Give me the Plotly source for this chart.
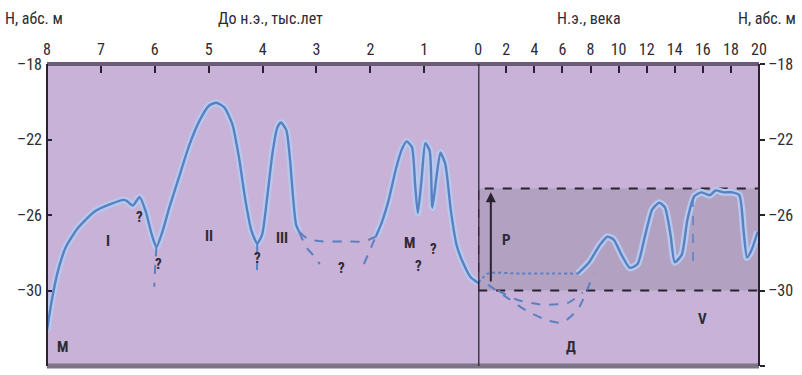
import plotly.graph_objects as go
from plotly.subplots import make_subplots

# ---------------- data ----------------
# BC part: thousand years BC, level (m abs.)
bc_t = [8.0, 7.91, 7.80, 7.65, 7.43, 7.11, 6.80, 6.58, 6.52, 6.41, 6.28, 6.17, 6.06, 5.97, 5.86, 5.73,
        5.54, 5.36, 5.17, 4.99, 4.86, 4.71, 4.56, 4.43, 4.32, 4.21, 4.10, 4.01, 3.92, 3.82, 3.73, 3.66,
        3.56, 3.49, 3.43, 3.38, 3.32]
bc_h = [-32.1, -30.5, -29.0, -27.7, -26.7, -25.8, -25.4, -25.2, -25.25, -25.5, -25.05, -25.8, -27.0, -27.7, -26.9, -25.6,
        -23.9, -22.3, -21.0, -20.2, -20.05, -20.3, -21.2, -23.1, -25.2, -26.8, -27.5, -27.05, -25.2, -22.8, -21.4, -21.1,
        -21.5, -23.1, -25.2, -26.5, -26.9]

bc2_t = [1.90, 1.79, 1.66, 1.53, 1.42, 1.33, 1.23, 1.17, 1.12, 1.05, 0.98, 0.90, 0.85, 0.77, 0.70, 0.61,
         0.51, 0.40, 0.27, 0.14, 0.0]
bc2_h = [-27.15, -26.4, -25.2, -23.6, -22.55, -22.1, -22.4, -24.4, -25.9, -24.1, -22.2, -22.6, -25.6, -23.9, -22.7, -23.3,
         -25.7, -27.6, -28.6, -29.3, -29.6]

# dashed alternative paths (BC)
dash_up_t = [3.32, 3.14, 2.86, 2.49, 2.12, 1.90]
dash_up_h = [-26.9, -27.3, -27.4, -27.4, -27.4, -27.15]
dash_lo1_t = [3.32, 3.19, 3.04, 2.94]
dash_lo1_h = [-26.9, -27.7, -28.2, -28.6]
dash_lo2_t = [2.12, 2.03, 1.90]
dash_lo2_h = [-28.6, -28.0, -27.15]
dash_q6_t = [5.97, 5.99, 6.01]
dash_q6_h = [-27.7, -28.6, -29.8]
dash_q4_t = [4.10, 4.10, 4.11]
dash_q4_h = [-27.5, -28.4, -29.4]

# AD part: centuries AD
ad_flat_c = [0.0, 0.7, 3.0, 5.0, 7.1]
ad_flat_h = [-29.6, -29.1, -29.1, -29.1, -29.1]
ad_c = [7.1, 7.9, 8.65, 9.2, 9.65, 10.2, 10.8, 11.35, 11.9, 12.4, 12.9, 13.3, 13.7, 14.0, 14.5, 14.9,
        15.4, 15.9, 16.5, 16.9, 17.5, 18.1, 18.6, 18.9, 19.15, 19.5, 19.9]
ad_h = [-29.1, -28.5, -27.6, -27.15, -27.3, -28.1, -28.8, -28.6, -27.05, -25.7, -25.35, -25.6, -27.05, -28.5, -28.1, -26.25,
        -25.0, -24.8, -24.95, -24.7, -24.8, -24.8, -24.95, -26.8, -28.25, -27.8, -26.9]
ad_dash_c = [15.3, 15.3]
ad_dash_h = [-25.1, -28.6]

d_outer_c = [0.7, 2.1, 3.5, 5.0, 6.0, 7.1, 7.8, 8.2]
d_outer_h = [-29.7, -30.4, -31.1, -31.6, -31.7, -31.0, -29.9, -29.1]
d_inner_c = [1.4, 2.8, 4.6, 6.4, 7.45]
d_inner_h = [-30.0, -30.5, -30.75, -30.65, -30.1]

range_box_c = [0, 20]
range_box_h = [-30.0, -24.6]
p_arrow_c = 0.9
p_arrow_h = [-29.6, -24.8]

bc_ticks = [8, 7, 6, 5, 4, 3, 2, 1]
ad_ticks = [0, 2, 4, 6, 8, 10, 12, 14, 16, 18, 20]
y_ticks = [-18, -22, -26, -30, -34]
y_tick_text = ["–18", "–22", "–26", "–30", "–34"]

# labels: (x, y, text, axis)
labels = [
    (6.87, -27.4, "I", "bc"), (4.99, -27.1, "II", "bc"), (3.64, -27.2, "III", "bc"),
    (6.28, -26.1, "?", "bc"), (5.94, -28.6, "?", "bc"), (4.10, -28.3, "?", "bc"),
    (2.53, -28.8, "?", "bc"), (1.11, -28.7, "?", "bc"), (0.82, -27.8, "?", "bc"),
    (1.28, -27.5, "М", "bc"), (7.72, -33.0, "М", "bc"),
    (2.0, -27.3, "Р", "ad"), (6.6, -33.0, "Д", "ad"), (16.0, -31.5, "V", "ad"),
]

# ---------------- figure ----------------
BG = "#C8B2D7"
LINE = "#5A80C2"
HALO = "#B5C9EE"
TXT = "#2E2A33"
FONT = "Liberation Sans Narrow, Roboto Condensed, Roboto, Liberation Sans, Arial"

fig = make_subplots(rows=1, cols=2, shared_yaxes=True, horizontal_spacing=0,
                    column_widths=[433, 282])

def add_line(x, y, col, dash=None, halo=True, width=2.4):
    if halo:
        fig.add_trace(go.Scatter(x=x, y=y, mode="lines", line=dict(color=HALO, width=7, shape="spline", smoothing=0.6,
                                 dash=dash if dash else "solid"), hoverinfo="skip", showlegend=False), row=1, col=col)
    fig.add_trace(go.Scatter(x=x, y=y, mode="lines", line=dict(color=LINE, width=width, shape="spline", smoothing=0.6,
                             dash=dash if dash else "solid"), hoverinfo="skip", showlegend=False), row=1, col=col)

# shaded box in AD part
fig.add_shape(type="rect", xref="x2", yref="y", x0=range_box_c[0], x1=range_box_c[1],
              y0=range_box_h[0], y1=range_box_h[1], fillcolor="#B3A1C2",
              line=dict(color="#2A2230", width=2, dash="dash"), layer="below")

add_line(bc_t, bc_h, 1)
add_line(bc2_t, bc2_h, 1)
for xx, yy in [(dash_up_t, dash_up_h), (dash_lo1_t, dash_lo1_h), (dash_lo2_t, dash_lo2_h),
               (dash_q6_t, dash_q6_h), (dash_q4_t, dash_q4_h)]:
    add_line(xx, yy, 1, dash="dash", halo=False, width=2)

add_line(ad_flat_c, ad_flat_h, 2, dash="dot", halo=False, width=2)
add_line(ad_c, ad_h, 2)
add_line(ad_dash_c, ad_dash_h, 2, dash="dash", halo=False, width=1.5)
add_line(d_outer_c, d_outer_h, 2, dash="dash", halo=False, width=2)
add_line(d_inner_c, d_inner_h, 2, dash="dash", halo=False, width=2)

# P arrow
fig.add_annotation(x=p_arrow_c, y=p_arrow_h[1], ax=p_arrow_c, ay=p_arrow_h[0], xref="x2", yref="y",
                   axref="x2", ayref="y", showarrow=True, arrowhead=2, arrowsize=1, arrowwidth=2,
                   arrowcolor="#2A2230", text="")

for x, y, t, ax in labels:
    fig.add_annotation(x=x, y=y, xref="x" if ax == "bc" else "x2", yref="y", text="<b>" + t + "</b>",
                       showarrow=False, font=dict(family=FONT, size=15, color=TXT))

# frame shapes
fig.add_shape(type="line", xref="paper", yref="paper", x0=0, x1=1, y0=1, y1=1,
              line=dict(color="#6B5A78", width=4))
fig.add_shape(type="line", xref="paper", yref="paper", x0=0, x1=1, y0=0, y1=0,
              line=dict(color="#7D7585", width=5))
fig.add_shape(type="line", xref="paper", yref="paper", x0=0, x1=0, y0=0, y1=1,
              line=dict(color="#2A2230", width=2))
fig.add_shape(type="line", xref="paper", yref="paper", x0=1, x1=1, y0=0, y1=1,
              line=dict(color="#2A2230", width=2))
fig.add_shape(type="line", xref="x2", yref="paper", x0=0, x1=0, y0=0, y1=1,
              line=dict(color="#2A2230", width=2.5))

# titles
tfont = dict(family=FONT, size=16, color=TXT)
fig.add_annotation(x=0, y=1, xref="paper", yref="paper", xshift=-44, yshift=46, xanchor="left", yanchor="middle",
                   text="Н, абс. м", showarrow=False, font=tfont)
fig.add_annotation(x=3.85, y=1, xref="x", yref="paper", yshift=46, xanchor="center", yanchor="middle",
                   text="До н.э., тыс.лет", showarrow=False, font=tfont)
fig.add_annotation(x=7.9, y=1, xref="x2", yref="paper", yshift=46, xanchor="center", yanchor="middle",
                   text="Н.э., века", showarrow=False, font=tfont)
fig.add_annotation(x=1, y=1, xref="paper", yref="paper", xshift=39, yshift=46, xanchor="right", yanchor="middle",
                   text="Н, абс. м", showarrow=False, font=tfont)

axfont = dict(family=FONT, size=16, color=TXT)
fig.update_xaxes(row=1, col=1, range=[8, 0], side="top", tickvals=bc_ticks, ticks="inside", ticklen=9,
                 tickwidth=2, tickcolor="#2A2230", showgrid=False, zeroline=False, tickfont=axfont,
                 ticklabelstandoff=5)
fig.update_xaxes(row=1, col=2, range=[0, 20], side="top", tickvals=ad_ticks, ticks="inside", ticklen=9,
                 tickwidth=2, tickcolor="#2A2230", showgrid=False, zeroline=False, tickfont=axfont,
                 ticklabelstandoff=5)
fig.update_yaxes(row=1, col=1, range=[-34, -18], tickvals=y_ticks, ticktext=y_tick_text,
                 ticks="inside", ticklen=5, tickwidth=2, tickcolor="#2A2230", showgrid=False, zeroline=False,
                 tickfont=axfont, ticklabelstandoff=4)
fig.update_yaxes(row=1, col=2, range=[-34, -18], side="right", showticklabels=True, tickvals=y_ticks,
                 ticktext=y_tick_text, ticks="outside", ticklen=5, tickwidth=2,
                 tickcolor="#2A2230", showgrid=False, zeroline=False, tickfont=axfont)

fig.update_layout(width=802, height=375, margin=dict(l=47, r=40, t=64, b=9),
                  plot_bgcolor=BG, paper_bgcolor="white", showlegend=False)

fig.write_html("out.html")
